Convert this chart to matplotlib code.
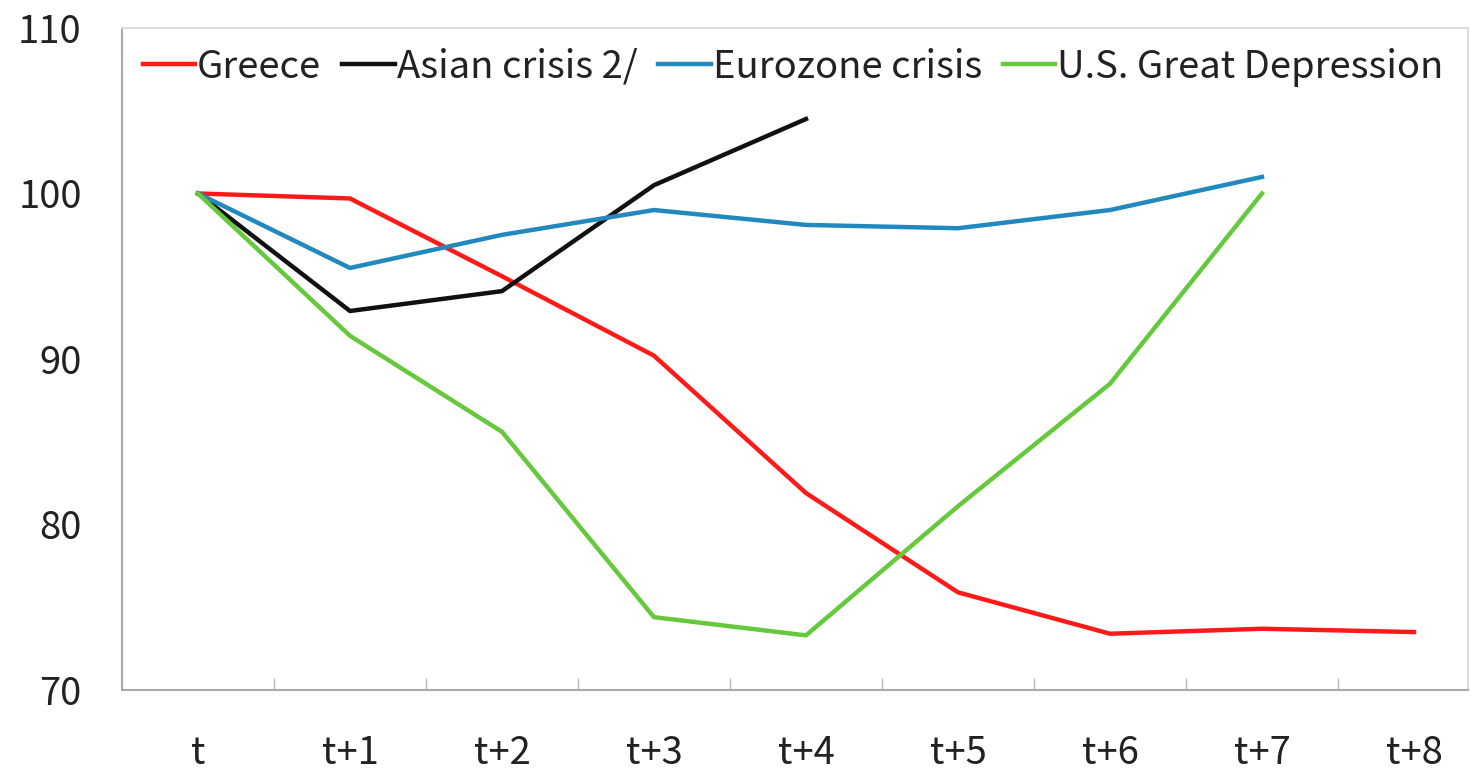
import numpy as np
import matplotlib.pyplot as plt
from matplotlib.ticker import FixedLocator

plt.rcParams['font.family'] = ['Noto Sans CJK SC', 'DejaVu Sans']

# Values (index, t = 100)
periods = ["t", "t+1", "t+2", "t+3", "t+4", "t+5", "t+6", "t+7", "t+8"]
greece = [100, 99.7, 95.0, 90.2, 81.9, 75.9, 73.4, 73.7, 73.5]
asian_crisis = [100, 92.9, 94.1, 100.5, 104.5]
eurozone = [100, 95.5, 97.5, 99.0, 98.1, 97.9, 99.0, 101.0]
us_depression = [100, 91.4, 85.6, 74.4, 73.3, 81.1, 88.5, 100.0]

fig = plt.figure(figsize=(14.75, 7.73), dpi=100)
ax = fig.add_axes([0.0827, 0.1074, 0.9125, 0.8564])

lw = 3.2
ax.plot(range(len(greece)), greece, color="#FF1A1A", lw=lw, label="Greece")
ax.plot(range(len(asian_crisis)), asian_crisis, color="#111111", lw=lw, label="Asian crisis 2/")
ax.plot(range(len(eurozone)), eurozone, color="#2289BE", lw=lw, label="Eurozone crisis")
ax.plot(range(len(us_depression)), us_depression, color="#66C83C", lw=lw, label="U.S. Great Depression")

ax.set_xlim(-0.5, 8.355)
ax.set_ylim(70, 110)
ax.set_yticks([70, 80, 90, 100, 110])
ax.set_xticks(range(len(periods)))
ax.set_xticklabels(periods)
ax.xaxis.set_minor_locator(FixedLocator(np.arange(0.5, 8, 1)))

ax.tick_params(axis="both", which="major", length=0, labelsize=27.5, labelcolor="#222222")
ax.tick_params(axis="x", which="major", pad=32)
ax.tick_params(axis="y", which="major", pad=29)
ax.tick_params(axis="x", which="minor", direction="in", length=9, color="#BBBBBB", width=1)

for side in ["left", "bottom"]:
    ax.spines[side].set_color("#AAAAAA")
    ax.spines[side].set_linewidth(1.5)
for side in ["top", "right"]:
    ax.spines[side].set_color("#DDDDDD")
    ax.spines[side].set_linewidth(1.5)

leg = ax.legend(loc="center left", bbox_to_anchor=(0.0156, 0.941), ncol=4, frameon=False,
                fontsize=27.5, handlelength=1.37, handletextpad=0.05, columnspacing=0.55,
                borderpad=0, borderaxespad=0)
for t in leg.get_texts():
    t.set_color("#222222")

fig.savefig("out.png", dpi=100)
